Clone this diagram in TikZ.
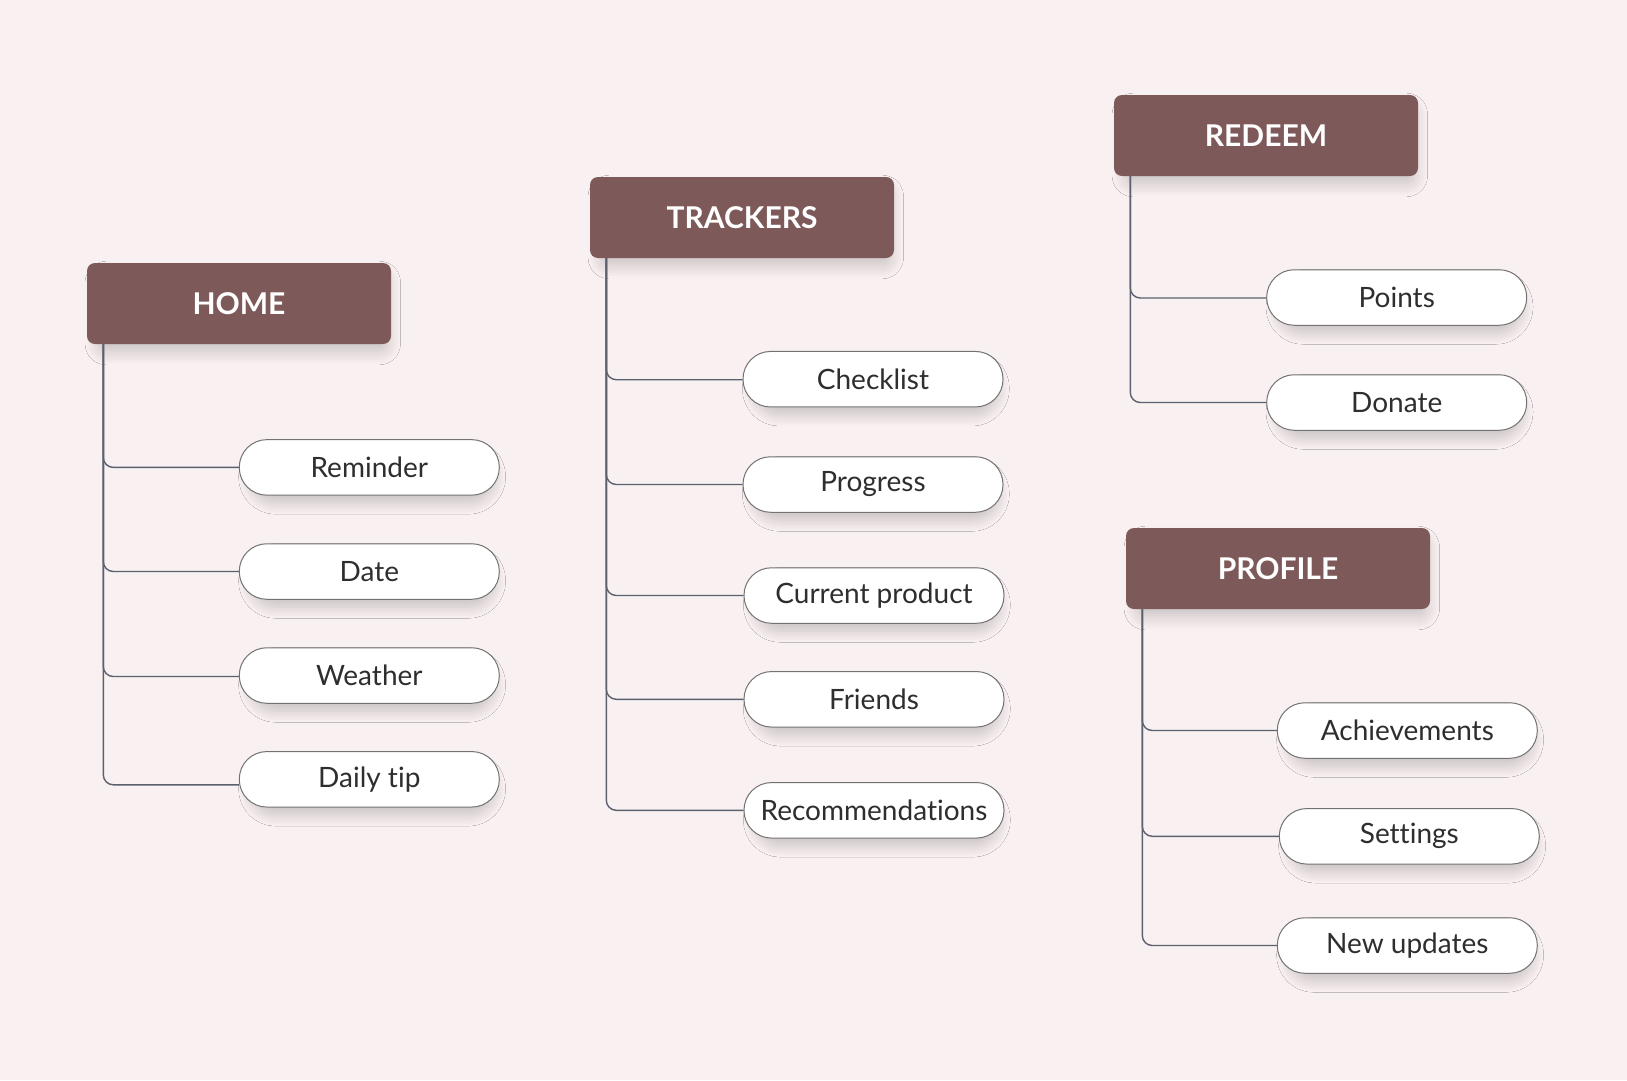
\documentclass[tikz,border=0pt]{standalone}
\usepackage{fontspec}
\setmainfont{Lato}[Ligatures={NoCommon}]
\usetikzlibrary{shadows.blur,calc}
\definecolor{bgc}{HTML}{F9F0F1}
\definecolor{hdr}{HTML}{7D5A59}
\definecolor{lnc}{HTML}{5C6170}
\definecolor{pillborder}{HTML}{727272}
\definecolor{txt}{HTML}{2E2E2E}
\begin{document}
\begin{tikzpicture}[x=1pt,y=-1pt,
 header/.style={fill=hdr, rounded corners=8pt, minimum width=304pt, minimum height=81pt,
   text=white, font=\fontsize{30}{34}\selectfont\bfseries, inner sep=0pt,
   blur shadow={shadow xshift=4pt, shadow yshift=-10pt, shadow scale=0.95, shadow blur radius=14pt, shadow blur steps=20, shadow opacity=20}},
 pill/.style={draw=pillborder, line width=1pt, fill=white, rounded corners=27.5pt,
   minimum width=260pt, minimum height=55.5pt, inner sep=0pt, text=txt,
   font=\fontsize{28}{32}\selectfont,
   blur shadow={shadow xshift=3pt, shadow yshift=-10pt, shadow scale=0.94, shadow blur radius=12pt, shadow blur steps=20, shadow opacity=20}},
 conn/.style={draw=lnc, line width=1.4pt, rounded corners=10pt}]
\fill[bgc] (0,0) rectangle (1627,1080);
\useasboundingbox (0,0) rectangle (1627,1080);

% HOME
\node[header] (home) at (239,303.5) {HOME};
\node[pill] (rem) at (369.3,467.4) {Reminder};
\node[pill] (date) at (369.3,571.5) {Date};
\node[pill] (wea) at (369.3,675.5) {Weather};
\node[pill] (tip) at (369.3,779.3) {Daily tip};

% TRACKERS
\node[header] (trk) at (742,217.5) {TRACKERS};
\node[pill] (chk) at (873,379.2) {Checklist};
\node[pill] (prg) at (873,484.5) {Progress};
\node[pill] (cur) at (874,595.5) {Current product};
\node[pill] (fri) at (874,699.3) {Friends};
\node[pill] (rec) at (874,810.3) {Recommendations};

% REDEEM
\node[header] (red) at (1266,135.5) {REDEEM};
\node[pill] (pts) at (1396.7,297.5) {Points};
\node[pill] (don) at (1396.7,402.5) {Donate};

% PROFILE
\node[header] (pro) at (1278,568.5) {PROFILE};
\node[pill] (ach) at (1407.3,730.5) {Achievements};
\node[pill] (set) at (1409.3,836.3) {Settings};
\node[pill] (upd) at (1407.3,945.5) {New updates};

% connectors
\draw[conn] ($(home.south west)+(16.5,0)$) |- (rem.west);
\draw[conn] ($(home.south west)+(16.5,0)$) |- (date.west);
\draw[conn] ($(home.south west)+(16.5,0)$) |- ([yshift=-1pt]wea.west);
\draw[conn] ($(home.south west)+(16.5,0)$) |- ([yshift=-5.5pt]tip.west);

\draw[conn] ($(trk.south west)+(16.5,0)$) |- ([yshift=-0.5pt]chk.west);
\draw[conn] ($(trk.south west)+(16.5,0)$) |- (prg.west);
\draw[conn] ($(trk.south west)+(16.5,0)$) |- (cur.west);
\draw[conn] ($(trk.south west)+(16.5,0)$) |- (fri.west);
\draw[conn] ($(trk.south west)+(16.5,0)$) |- (rec.west);

\draw[conn] ($(red.south west)+(16.5,0)$) |- ([yshift=-0.5pt]pts.west);
\draw[conn] ($(red.south west)+(16.5,0)$) |- (don.west);

\draw[conn] ($(pro.south west)+(16.5,0)$) |- (ach.west);
\draw[conn] ($(pro.south west)+(16.5,0)$) |- (set.west);
\draw[conn] ($(pro.south west)+(16.5,0)$) |- (upd.west);
\end{tikzpicture}
\end{document}
